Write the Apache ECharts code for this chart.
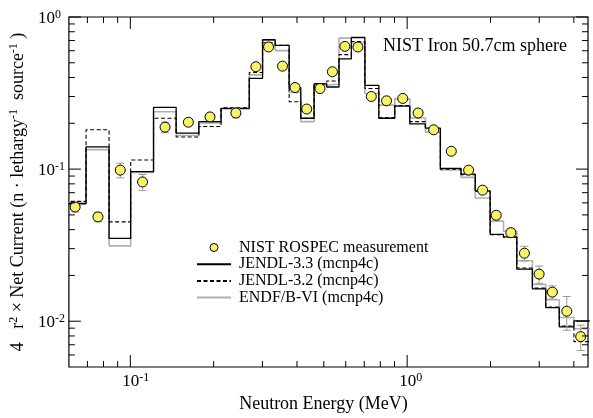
<!DOCTYPE html>
<html>
<head>
<meta charset="utf-8">
<script src="https://cdn.jsdelivr.net/npm/echarts@6/dist/echarts.min.js"></script>
<style>
  html, body { margin: 0; padding: 0; background: #fff; }
  #chart { width: 593px; height: 418px; }
</style>
</head>
<body>
<div id="chart"></div>
<script>
// Energy group boundaries of the unfolded spectrum (MeV)
const binEdges = [0.0577, 0.0692, 0.0838, 0.1003, 0.1213, 0.1464, 0.1768, 0.2127, 0.2690, 0.3004,
  0.3336, 0.3747, 0.4128, 0.4610, 0.5123, 0.5672, 0.6286, 0.7036, 0.7900, 0.9022,
  1.022, 1.164, 1.318, 1.565, 1.762, 1.994, 2.228, 2.489, 2.834, 3.167, 3.544, 4.003, 4.6];

// Calculated group values (MCNP4C) for each library
const jendl33 = [0.0592, 0.1398, 0.0350, 0.0962, 0.2547, 0.1725, 0.2052, 0.2508, 0.395, 0.7085,
  0.6505, 0.3437, 0.216, 0.3637, 0.3467, 0.5306, 0.7330, 0.3556, 0.216, 0.2597,
  0.1983, 0.186, 0.101, 0.0928, 0.0719, 0.0372, 0.0358, 0.0220, 0.01632, 0.01228, 0.00919, 0.01006];
const jendl32 = [0.0614, 0.1813, 0.0450, 0.1148, 0.2160, 0.1625, 0.1905, 0.2530, 0.432, 0.6774,
  0.6505, 0.2770, 0.216, 0.3637, 0.3794, 0.5658, 0.6908, 0.3385, 0.218, 0.262,
  0.2052, 0.186, 0.100, 0.0920, 0.0715, 0.0370, 0.0355, 0.0224, 0.0165, 0.0124, 0.0093, 0.00734];
const endfb6 = [0.0603, 0.1343, 0.0313, 0.0952, 0.2384, 0.1664, 0.2012, 0.2490, 0.4163, 0.7035,
  0.601, 0.3189, 0.2052, 0.357, 0.361, 0.7268, 0.6745, 0.3142, 0.2635, 0.2897,
  0.217, 0.175, 0.0986, 0.0883, 0.0645, 0.0455, 0.0391, 0.0250, 0.01743, 0.01384, 0.01057, 0.00892];

// ROSPEC measurement: energy (MeV), value, relative uncertainty
const measEnergy = [0.0632, 0.0764, 0.0920, 0.1107, 0.1335, 0.1621, 0.1940, 0.2406, 0.2842, 0.3157,
  0.3546, 0.3936, 0.4338, 0.4844, 0.5369, 0.5956, 0.6638, 0.7420, 0.8423, 0.9641,
  1.0954, 1.2467, 1.4437, 1.6671, 1.8725, 2.0973, 2.3693, 2.6521, 2.9966, 3.3454, 3.7714, 4.2348];
const measValue = [0.0563, 0.0485, 0.0985, 0.0823, 0.1887, 0.2034, 0.2203, 0.2338, 0.4709, 0.6352,
  0.4751, 0.3437, 0.2482, 0.3385, 0.4367, 0.6409, 0.6352, 0.3002, 0.2812, 0.2915,
  0.2338, 0.1813, 0.1310, 0.0985, 0.0727, 0.0497, 0.0382, 0.0280, 0.0204, 0.01553, 0.01163, 0.00792];
const measRelErr = [0.07, 0.07, 0.11, 0.12, 0.08, 0.05, 0.05, 0.07, 0.04, 0.04,
  0.04, 0.05, 0.04, 0.04, 0.04, 0.04, 0.04, 0.04, 0.04, 0.04,
  0.05, 0.04, 0.04, 0.04, 0.05, 0.06, 0.06, 0.11, 0.13, 0.10, 0.25, 0.19];

// Axis ranges and tick positions
const X_MIN = 0.06, X_MAX = 4.5;
const Y_MIN = 0.005, Y_MAX = 1;
const xMajorTicks = [0.1, 1];
const xMinorTicks = [0.07, 0.08, 0.09, 0.2, 0.3, 0.4, 0.5, 0.6, 0.7, 0.8, 0.9, 2, 3, 4];
const yMajorTicks = [0.01, 0.1, 1];
const yMinorTicks = [0.006, 0.007, 0.008, 0.009, 0.02, 0.03, 0.04, 0.05, 0.06, 0.07, 0.08, 0.09,
  0.2, 0.3, 0.4, 0.5, 0.6, 0.7, 0.8, 0.9];

const SERIF = '"Liberation Serif", "Times New Roman", serif';
const MAJOR_LEN = 12, MINOR_LEN = 6;

function stepData(values) {
  return binEdges.map((e, i) => [e, values[Math.min(i, values.length - 1)]]);
}

function expOf(value) {
  const p = Math.log10(value);
  const n = Math.round(p);
  return Math.abs(p - n) < 1e-6 ? n : null;
}
function supText(n) { return n < 0 ? '-' + (-n) : String(n); }

const supStyle = { fontFamily: SERIF, fontSize: 12, lineHeight: 14, padding: [0, 0, 6, 0], verticalAlign: 'bottom', color: '#000' };

function renderXTick(params, api) {
  const v = api.value(0);
  const len = api.value(2) ? MAJOR_LEN : MINOR_LEN;
  const b = api.coord([v, Y_MIN]);
  const t = api.coord([v, Y_MAX]);
  const st = { stroke: '#000', lineWidth: 1 };
  return { type: 'group', children: [
    { type: 'line', shape: { x1: b[0], y1: b[1], x2: b[0], y2: b[1] - len }, style: st },
    { type: 'line', shape: { x1: t[0], y1: t[1], x2: t[0], y2: t[1] + len }, style: st }
  ] };
}
function renderYTick(params, api) {
  const v = api.value(1);
  const len = api.value(2) ? MAJOR_LEN : MINOR_LEN;
  const l = api.coord([X_MIN, v]);
  const r = api.coord([X_MAX, v]);
  const st = { stroke: '#000', lineWidth: 1 };
  return { type: 'group', children: [
    { type: 'line', shape: { x1: l[0], y1: l[1], x2: l[0] + len, y2: l[1] }, style: st },
    { type: 'line', shape: { x1: r[0], y1: r[1], x2: r[0] - len, y2: r[1] }, style: st }
  ] };
}
function renderErrorBar(params, api) {
  const x = api.value(0), v = api.value(1), e = api.value(2);
  const hi = api.coord([x, v * (1 + e)]);
  const lo = api.coord([x, v * (1 - e)]);
  const cap = 4;
  const st = { stroke: '#9a9a9a', lineWidth: 1 };
  return { type: 'group', children: [
    { type: 'line', shape: { x1: hi[0], y1: hi[1], x2: lo[0], y2: lo[1] }, style: st },
    { type: 'line', shape: { x1: hi[0] - cap, y1: hi[1], x2: hi[0] + cap, y2: hi[1] }, style: st },
    { type: 'line', shape: { x1: lo[0] - cap, y1: lo[1], x2: lo[0] + cap, y2: lo[1] }, style: st }
  ] };
}

const chart = echarts.init(document.getElementById('chart'), null, { renderer: 'canvas' });

// line entries in the legend show only the line sample
const noMarker = { opacity: 0 };

chart.setOption({
  animation: false,
  backgroundColor: '#fff',
  title: {
    text: 'NIST Iron 50.7cm sphere',
    left: 383, top: 37, padding: 0,
    textStyle: { fontFamily: SERIF, fontSize: 18, fontWeight: 'normal', color: '#000' }
  },
  legend: {
    orient: 'vertical', left: 196, top: 239.5, padding: 0,
    itemWidth: 34, itemHeight: 8, itemGap: 0.7,
    selectedMode: false,
    textStyle: { fontFamily: SERIF, fontSize: 16, lineHeight: 16, color: '#000', padding: [0, 0, 0, 3] },
    data: [
      { name: 'NIST ROSPEC measurement', itemStyle: { borderWidth: 1 } },
      { name: 'JENDL-3.3 (mcnp4c)', itemStyle: noMarker },
      { name: 'JENDL-3.2 (mcnp4c)', itemStyle: noMarker },
      { name: 'ENDF/B-VI (mcnp4c)', itemStyle: noMarker }
    ]
  },
  grid: {
    left: 68, right: 5, top: 17, bottom: 47,
    show: true, borderColor: '#000', borderWidth: 1.2, backgroundColor: 'transparent'
  },
  xAxis: {
    type: 'log', logBase: 10, min: X_MIN, max: X_MAX,
    axisLine: { show: false }, axisTick: { show: false }, splitLine: { show: false },
    axisLabel: {
      margin: 3,
      formatter: v => { const n = expOf(v); if (n === null) return ''; const s = supText(n); return '{b' + s.length + '|10}{s|' + s + '}'; },
      rich: {
        b1: { fontFamily: SERIF, fontSize: 17, lineHeight: 20, verticalAlign: 'bottom', padding: [0, 0, 0, 7], color: '#000' },
        b2: { fontFamily: SERIF, fontSize: 17, lineHeight: 20, verticalAlign: 'bottom', padding: [0, 0, 0, 11], color: '#000' },
        s: supStyle
      }
    },
    name: 'Neutron Energy (MeV)', nameLocation: 'middle', nameGap: 28,
    nameTextStyle: { fontFamily: SERIF, fontSize: 18, color: '#000', padding: [0, 10, 0, 0] }
  },
  yAxis: {
    type: 'log', logBase: 10, min: Y_MIN, max: Y_MAX,
    axisLine: { show: false }, axisTick: { show: false }, splitLine: { show: false },
    axisLabel: {
      align: 'left', margin: 31,
      formatter: v => { const n = expOf(v); if (n === null) return ''; return '{b|10}{s|' + supText(n) + '}'; },
      rich: {
        b: { fontFamily: SERIF, fontSize: 17, lineHeight: 20, verticalAlign: 'bottom', color: '#000' },
        s: supStyle
      }
    },
    name: '4   r{s|2} × Net Current (n · lethargy{s|-1}  source{s|-1} )',
    nameLocation: 'middle', nameRotate: 90, nameGap: 27,
    nameTextStyle: {
      fontFamily: SERIF, fontSize: 18, color: '#000',
      rich: { s: { fontFamily: SERIF, fontSize: 12, lineHeight: 14, padding: [0, 0, 7, 0], verticalAlign: 'bottom', color: '#000' } }
    }
  },
  series: [
    {
      name: 'ENDF/B-VI (mcnp4c)', type: 'line', step: 'end', symbol: 'none',
      data: stepData(endfb6),
      lineStyle: { color: '#b0b0b0', width: 1.6 }, itemStyle: { color: '#b0b0b0' }, z: 2
    },
    {
      name: 'JENDL-3.2 (mcnp4c)', type: 'line', step: 'end', symbol: 'none',
      data: stepData(jendl32),
      lineStyle: { color: '#000', width: 1.1, type: [4, 2.5] }, itemStyle: { color: '#000' }, z: 3
    },
    {
      name: 'JENDL-3.3 (mcnp4c)', type: 'line', step: 'end', symbol: 'none',
      data: stepData(jendl33),
      lineStyle: { color: '#000', width: 1.3 }, itemStyle: { color: '#000' }, z: 4
    },
    {
      name: 'errors', type: 'custom', renderItem: renderErrorBar, silent: true, z: 5,
      data: measEnergy.map((e, i) => [e, measValue[i], measRelErr[i]])
    },
    {
      name: 'NIST ROSPEC measurement', type: 'scatter', symbol: 'circle', symbolSize: 10,
      data: measEnergy.map((e, i) => [e, measValue[i]]),
      itemStyle: { color: '#f8f46a', borderColor: '#000', borderWidth: 1, opacity: 1 }, z: 6
    },
    {
      name: 'xticks', type: 'custom', renderItem: renderXTick, silent: true, z: 7,
      data: xMajorTicks.map(v => [v, Y_MIN, 1]).concat(xMinorTicks.map(v => [v, Y_MIN, 0]))
    },
    {
      name: 'yticks', type: 'custom', renderItem: renderYTick, silent: true, z: 7,
      data: yMajorTicks.map(v => [X_MIN, v, 1]).concat(yMinorTicks.map(v => [X_MIN, v, 0]))
    }
  ]
});
</script>
</body>
</html>
